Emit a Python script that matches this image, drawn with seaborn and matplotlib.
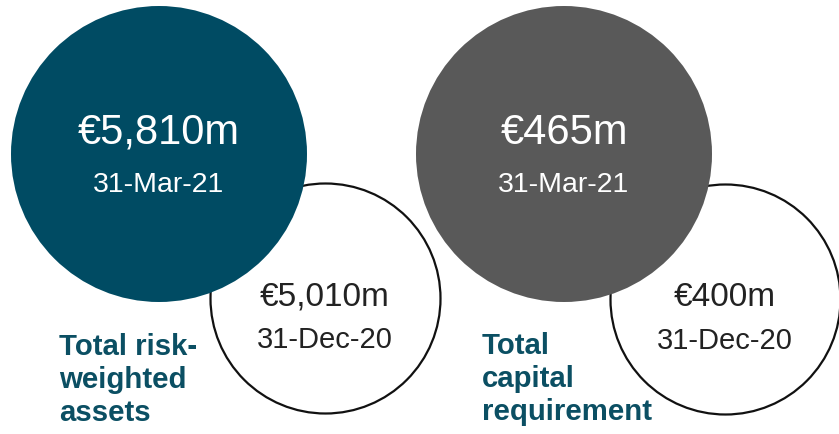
import matplotlib
matplotlib.use("Agg")
import matplotlib.pyplot as plt
import seaborn as sns
import pandas as pd

# ---- data ----
metrics = ["Total risk-\nweighted\nassets", "Total\ncapital\nrequirement"]
current_values = ["€5,810m", "€465m"]
prior_values = ["€5,010m", "€400m"]
current_date = "31-Mar-21"
prior_date = "31-Dec-20"

# ---- layout (pixels) ----
W, H, DPI = 839, 435, 100
big_centers = [(159, 155), (564, 155)]
big_r = 148
small_centers = [(325, 299), (725, 300)]
small_r = 115
label_pos = [(59, 333), (482, 332)]
big_colors = ["#004b63", "#595959"]
label_color = "#0b4f63"

sns.set_theme(style="white")
plt.rcParams["font.family"] = ["Liberation Sans", "DejaVu Sans"]

fig = plt.figure(figsize=(W / DPI, H / DPI), dpi=DPI)
ax = fig.add_axes([0, 0, 1, 1])
ax.set_xlim(0, W)
ax.set_ylim(H, 0)
ax.axis("off")

px2pt = 72 / DPI

small_df = pd.DataFrame({"x": [c[0] for c in small_centers], "y": [c[1] for c in small_centers]})
sns.scatterplot(data=small_df, x="x", y="y", ax=ax, s=(2 * small_r * px2pt) ** 2,
                color="white", edgecolor="#111111", linewidth=1.6, zorder=1, legend=False)

for i in range(2):
    bdf = pd.DataFrame({"x": [big_centers[i][0]], "y": [big_centers[i][1]]})
    sns.scatterplot(data=bdf, x="x", y="y", ax=ax, s=(2 * big_r * px2pt) ** 2,
                    color=big_colors[i], edgecolor="none", linewidth=0, zorder=2, legend=False)

for i in range(2):
    bx, by = big_centers[i]
    ax.text(bx, by - 22, current_values[i], color="white", fontsize=30,
            ha="center", va="center", zorder=3)
    ax.text(bx, by + 30, current_date, color="white", fontsize=20.5,
            ha="center", va="center", zorder=3)
    sx, sy = small_centers[i]
    ax.text(sx, sy - 2, prior_values[i], color="#222222", fontsize=24,
            ha="center", va="center", zorder=3)
    ax.text(sx, sy + 41, prior_date, color="#222222", fontsize=21,
            ha="center", va="center", zorder=3)
    lx, ly = label_pos[i]
    ax.text(lx, ly, metrics[i], color=label_color, fontsize=21.2, fontweight="bold",
            ha="left", va="top", linespacing=1.22, zorder=3)

ax.set_xlabel("")
ax.set_ylabel("")
fig.savefig("out.png", dpi=DPI)
